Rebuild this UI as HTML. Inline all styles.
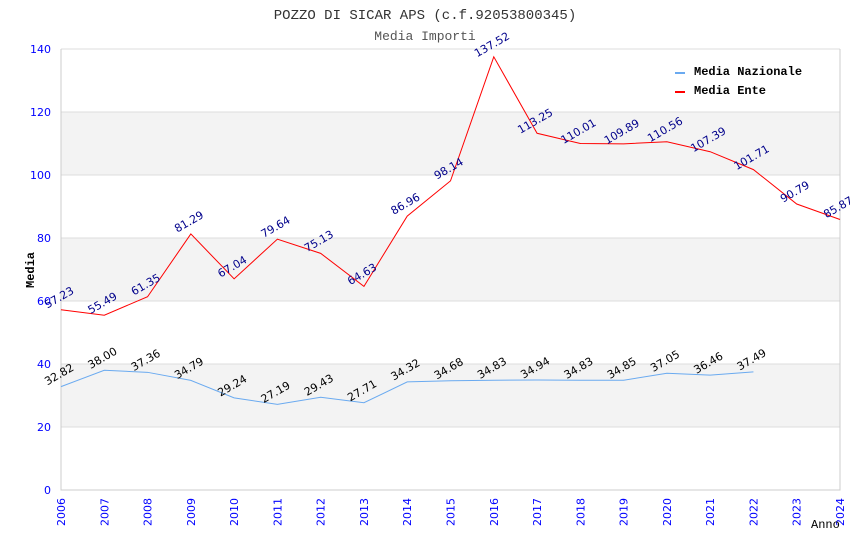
<!DOCTYPE html>
<html><head><meta charset="utf-8"><style>body{margin:0;background:#fff}svg{display:block}</style></head>
<body>
<svg id="chart" width="850" height="550" xmlns="http://www.w3.org/2000/svg">
<rect width="850" height="550" fill="#fff"/>
<text x="425" y="19" text-anchor="middle" font-family="Liberation Mono, monospace" font-size="14" fill="#333">POZZO DI SICAR APS (c.f.92053800345)</text>
<text x="425" y="40" text-anchor="middle" font-family="Liberation Mono, monospace" font-size="13" fill="#555">Media Importi</text>
<g id="grid"></g>
<g id="series"></g>
<g id="labels"></g>
<text transform="translate(34,270) rotate(-90)" text-anchor="middle" font-family="Liberation Mono, monospace" font-size="12" font-weight="bold" fill="#000">Media</text>
<text x="811" y="528" font-family="Liberation Mono, monospace" font-size="12" fill="#000">Anno</text>
<g font-family="Liberation Mono, monospace" font-size="12" font-weight="bold">
<rect x="675" y="72" width="10" height="2" fill="#6aaaf0"/>
<text x="694" y="75" fill="#000">Media Nazionale</text>
<rect x="675" y="91" width="10" height="2" fill="#f00"/>
<text x="694" y="94" fill="#000">Media Ente</text>
</g>
</svg>
<script>
const years=[2006,2007,2008,2009,2010,2011,2012,2013,2014,2015,2016,2017,2018,2019,2020,2021,2022,2023,2024];
const nazionale=[32.82,38.00,37.36,34.79,29.24,27.19,29.43,27.71,34.32,34.68,34.83,34.94,34.83,34.85,37.05,36.46,37.49];
const ente=[57.23,55.49,61.35,81.29,67.04,79.64,75.13,64.63,86.96,98.14,137.52,113.25,110.01,109.89,110.56,107.39,101.71,90.79,85.87];
const yTicks=[0,20,40,60,80,100,120,140];
const NS='http://www.w3.org/2000/svg';
const x0=61,x1=840,yB=490,yT=49;
const xs=i=>x0+(x1-x0)*i/(years.length-1);
const ys=v=>yB-(yB-yT)*v/140;
function mk(t,a,p){const e=document.createElementNS(NS,t);for(const k in a)e.setAttribute(k,a[k]);p.appendChild(e);return e;}
const grid=document.getElementById('grid');
for(let i=0;i<yTicks.length-1;i++){
 if(i%2===1){const r=mk('rect',{x:x0,y:ys(yTicks[i+1]),width:x1-x0,height:ys(yTicks[i])-ys(yTicks[i+1]),fill:'#f3f3f3'},grid);
 
 }
}
yTicks.forEach(v=>{
 const l=mk('line',{x1:x0,x2:x1,y1:ys(v),y2:ys(v),stroke:'#ddd','stroke-width':1},grid);
 
 
 const t=mk('text',{x:x0-10,y:ys(v)+4,'text-anchor':'end','font-family':'DejaVu Sans, sans-serif','font-size':11,fill:'#00f'},grid);
 t.textContent=v;
 
 
});
const ax=mk('path',{d:`M${x0} ${yT}V${yB}H${x1}V${yT}`,fill:'none',stroke:'#ccc'},grid);


years.forEach((y,i)=>{
 const t=mk('text',{transform:`translate(${xs(i)+4},498) rotate(-90)`,'text-anchor':'end','font-family':'DejaVu Sans, sans-serif','font-size':11,fill:'#00f'},grid);
 t.textContent=y;
 
 
});
const ser=document.getElementById('series'),lab=document.getElementById('labels');
function draw(arr,color,lc,name){
 const p=mk('polyline',{points:arr.map((v,i)=>xs(i)+','+ys(v)).join(' '),fill:'none',stroke:color,'stroke-width':1},ser);
 
 
 arr.forEach((v,i)=>{
  const t=mk('text',{transform:`translate(${xs(i)},${ys(v)-9}) rotate(-30)`,'text-anchor':'middle','font-family':'DejaVu Sans, sans-serif','font-size':11,fill:lc},lab);
  t.textContent=v.toFixed(2);
  
  
 });
}
draw(nazionale,'#6aaaf0','#000','nazionale');
draw(ente,'#f00','#00008b','ente');
</script>
</body></html>
